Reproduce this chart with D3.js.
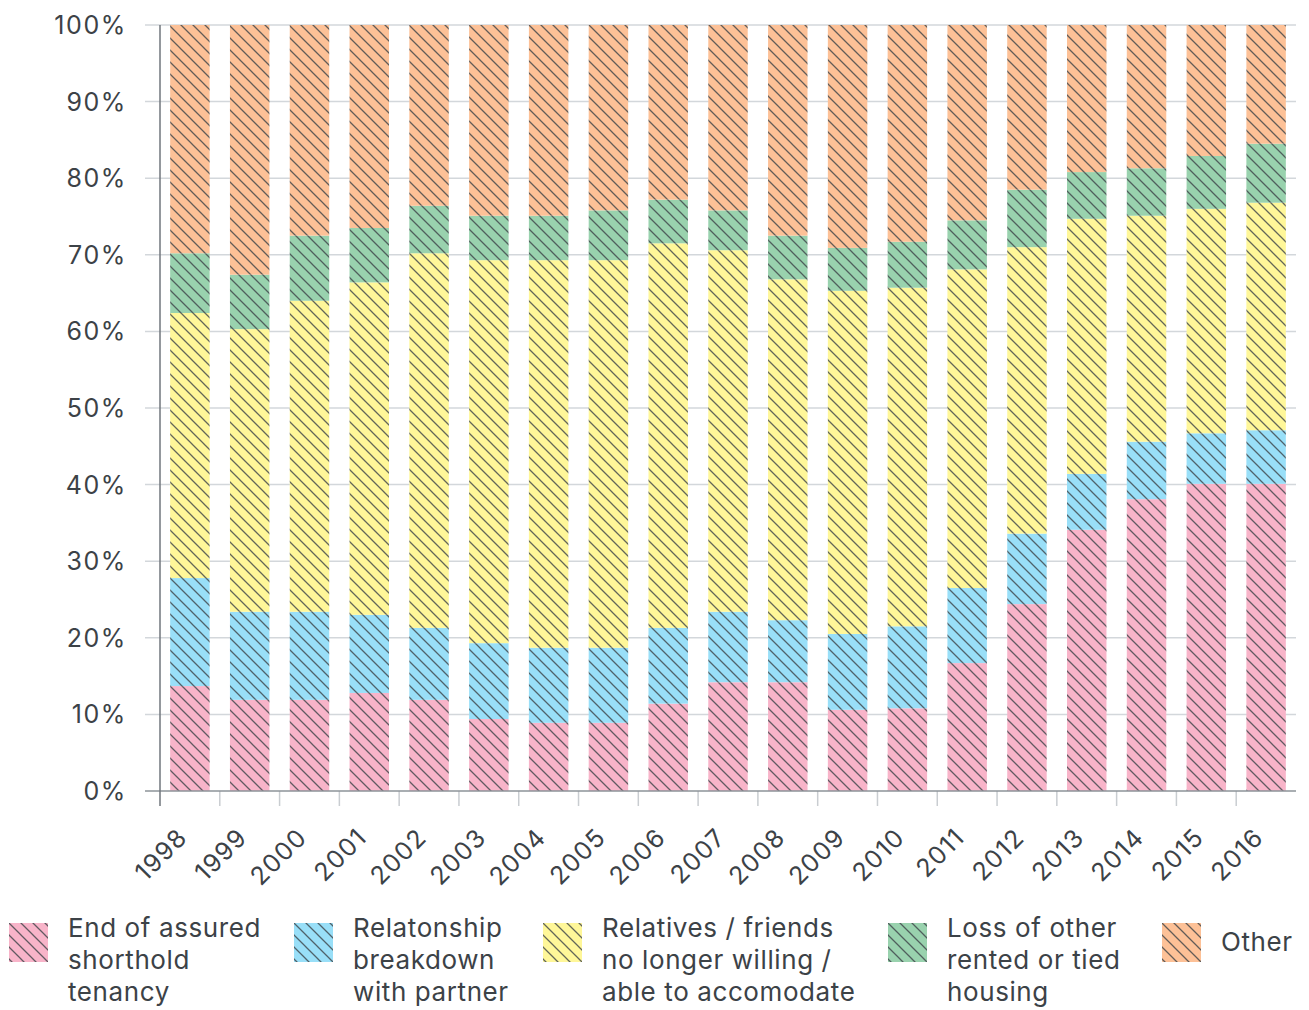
<!DOCTYPE html>
<html>
<head>
<meta charset="utf-8">
<script src="https://cdn.jsdelivr.net/npm/d3@7"></script>
<style>
  body { margin: 0; background: #fff; }
  svg { display: block; font-family: Inter, "Open Sans", sans-serif; }
</style>
</head>
<body>
<svg id="chart" width="1309" height="1010"></svg>
<script>
// years on the x axis
const years = ['1998', '1999', '2000', '2001', '2002', '2003', '2004', '2005', '2006', '2007',
               '2008', '2009', '2010', '2011', '2012', '2013', '2014', '2015', '2016'];

// share of each reason, percent
const endOfTenancy = [13.7, 11.9, 11.9, 12.8, 11.9, 9.4, 8.9, 8.9, 11.4, 14.2, 14.2, 10.6, 10.8, 16.7, 24.4, 34.1, 38.1, 40.1, 40.1];
const relationship = [14.1, 11.5, 11.5, 10.2, 9.4, 9.9, 9.8, 9.8, 9.9, 9.2, 8.1, 9.9, 10.7, 9.8, 9.2, 7.3, 7.5, 6.6, 7.0];
const relatives    = [34.6, 36.9, 40.6, 43.4, 48.9, 50.0, 50.6, 50.6, 50.2, 47.2, 44.5, 44.8, 44.2, 41.6, 37.4, 33.3, 29.5, 29.3, 29.7];
const lossOfOther  = [7.8, 7.1, 8.5, 7.1, 6.2, 5.8, 5.8, 6.5, 5.7, 5.2, 5.7, 5.6, 6.0, 6.4, 7.5, 6.1, 6.2, 6.9, 7.7];
const other        = [29.8, 32.6, 27.5, 26.5, 23.6, 24.9, 24.9, 24.2, 22.8, 24.2, 27.5, 29.1, 28.3, 25.5, 21.5, 19.2, 18.7, 17.1, 15.5];

const yTicks = [0, 10, 20, 30, 40, 50, 60, 70, 80, 90, 100];

const seriesKeys = ['tenancy', 'relationship', 'relatives', 'loss', 'other'];
const seriesLabels = [
    ['End of assured', 'shorthold', 'tenancy'],
    ['Relatonship', 'breakdown', 'with partner'],
    ['Relatives / friends', 'no longer willing /', 'able to accomodate'],
    ['Loss of other', 'rented or tied', 'housing'],
    ['Other']
];
const colors = ['#f8b4c9', '#99dff8', '#fff799', '#99d2ae', '#fdc197'];

const rows = years.map((year, i) => ({
    year: year,
    tenancy: endOfTenancy[i],
    relationship: relationship[i],
    relatives: relatives[i],
    loss: lossOfOther[i],
    other: other[i]
}));

const margin = { top: 25, left: 160, right: 13 };
const width = 1309;
const plotBottom = 791;
const textColor = '#3c4247';

const svg = d3.select('#chart');

// hatch patterns, one per colour
const defs = svg.append('defs');
colors.forEach((c, i) => {
    const p = defs.append('pattern')
        .attr('id', 'hatch' + i)
        .attr('patternUnits', 'userSpaceOnUse')
        .attr('width', 12)
        .attr('height', 12);
    p.append('rect').attr('width', 12).attr('height', 12).attr('fill', c);
    p.append('path')
        .attr('d', 'M-3,9 L3,15 M0,0 L12,12 M9,-3 L15,3')
        .attr('stroke', '#3c4247')
        .attr('stroke-opacity', 0.8)
        .attr('stroke-width', 1.3);
});

const x = d3.scaleBand()
    .domain(years)
    .range([margin.left, width - margin.right])
    .paddingInner(0.34)
    .paddingOuter(0.17);

const y = d3.scaleLinear()
    .domain([0, 100])
    .range([plotBottom, margin.top]);

// gridlines
svg.append('g')
    .selectAll('line')
    .data(yTicks.slice(1))
    .enter()
    .append('line')
    .attr('x1', margin.left - 15)
    .attr('x2', width - margin.right)
    .attr('y1', d => y(d))
    .attr('y2', d => y(d))
    .attr('stroke', '#d3d7db')
    .attr('stroke-width', 1.5);

// y labels
svg.append('g')
    .selectAll('text')
    .data(yTicks)
    .enter()
    .append('text')
    .attr('x', 127)
    .attr('y', d => y(d))
    .attr('dy', '0.36em')
    .attr('text-anchor', 'end')
    .attr('font-size', 25)
    .attr('letter-spacing', 1.6)
    .attr('fill', textColor)
    .text(d => d + '%');

// stacked bars
const stack = d3.stack().keys(seriesKeys);
const layers = stack(rows);

svg.append('g')
    .selectAll('g')
    .data(layers)
    .enter()
    .append('g')
    .attr('fill', (d, i) => `url(#hatch${i})`)
    .selectAll('rect')
    .data(d => d)
    .enter()
    .append('rect')
    .attr('x', d => x(d.data.year))
    .attr('width', x.bandwidth())
    .attr('y', d => y(d[1]))
    .attr('height', d => y(d[0]) - y(d[1]));

// x ticks at band boundaries
const step = x.step();
const boundaries = years.map((yr, i) => margin.left + i * step);
svg.append('g')
    .selectAll('line')
    .data(boundaries.slice(1))
    .enter()
    .append('line')
    .attr('x1', d => d)
    .attr('x2', d => d)
    .attr('y1', plotBottom)
    .attr('y2', plotBottom + 15)
    .attr('stroke', '#c9cdd1')
    .attr('stroke-width', 1.5);

// baseline and left axis
svg.append('line')
    .attr('x1', margin.left - 15)
    .attr('x2', width - margin.right)
    .attr('y1', plotBottom)
    .attr('y2', plotBottom)
    .attr('stroke', '#8d9399')
    .attr('stroke-width', 1.5);
svg.append('line')
    .attr('x1', margin.left)
    .attr('x2', margin.left)
    .attr('y1', margin.top)
    .attr('y2', plotBottom + 15)
    .attr('stroke', '#70767c')
    .attr('stroke-width', 1.5);

// year labels, rotated
svg.append('g')
    .selectAll('text')
    .data(years)
    .enter()
    .append('text')
    .attr('transform', d => `translate(${x(d) + x.bandwidth() / 2 - 1},${839}) rotate(-45)`)
    .attr('text-anchor', 'end')
    .attr('font-size', 25)
    .attr('letter-spacing', 1.2)
    .attr('fill', textColor)
    .text(d => d);

// legend
const legendX = [9, 294, 543, 888, 1162];
const legend = svg.append('g')
    .selectAll('g')
    .data(seriesLabels)
    .enter()
    .append('g')
    .attr('transform', (d, i) => `translate(${legendX[i]},923)`);

legend.append('rect')
    .attr('width', 39)
    .attr('height', 39)
    .attr('fill', (d, i) => `url(#hatch${i})`);

legend.append('text')
    .attr('x', 59)
    .attr('y', d => d.length === 1 ? 28 : 14)
    .attr('font-size', 26)
    .attr('letter-spacing', 0.6)
    .attr('fill', textColor)
    .selectAll('tspan')
    .data(d => d)
    .enter()
    .append('tspan')
    .attr('x', 59)
    .attr('dy', (d, i) => i === 0 ? 0 : 32)
    .text(d => d);
</script>
</body>
</html>
